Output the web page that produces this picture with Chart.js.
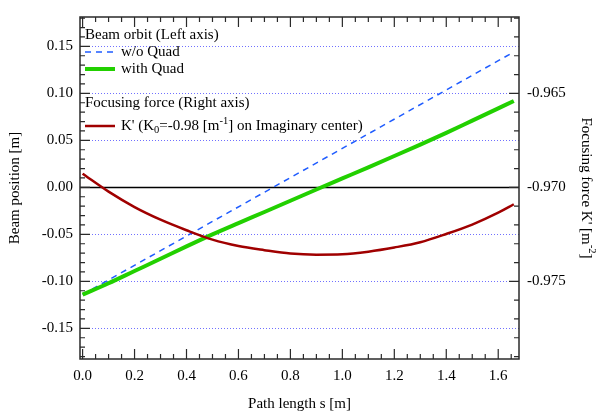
<!DOCTYPE html>
<html>
<head>
<meta charset="utf-8">
<script src="https://cdn.jsdelivr.net/npm/chart.js@4.4.0/dist/chart.umd.min.js"></script>
<style>
  html, body { margin: 0; padding: 0; background: #fff; }
</style>
</head>
<body>
<canvas id="orbitChart" width="597" height="414"></canvas>
<script>
/* path length samples [m] */
const pathS = [0, 0.1, 0.2, 0.3, 0.4, 0.5, 0.6, 0.7, 0.8, 0.9, 1.0, 1.1, 1.2, 1.3, 1.4, 1.5, 1.6, 1.66];

/* beam orbit with quad [m] */
const withQuad = [-0.1142, -0.1020, -0.0890, -0.0760, -0.0628, -0.0500, -0.0380, -0.0262, -0.0143,
  -0.0023, 0.0095, 0.0213, 0.0333, 0.0455, 0.0580, 0.0710, 0.0840, 0.0918];

/* beam orbit without quad: straight drift [m] */
const noQuadS = [0, 1.66];
const noQuad = [-0.1140, 0.1440];

/* focusing force K' [m^-2] */
const kPrime = [-0.96928, -0.97023, -0.97105, -0.97172, -0.97228, -0.97278, -0.97312, -0.97334, -0.97352,
  -0.97358, -0.97356, -0.97342, -0.97320, -0.97292, -0.97248, -0.97198, -0.97135, -0.97090];

/* tick labels */
const leftTicks = [-0.15, -0.10, -0.05, 0.00, 0.05, 0.10, 0.15];
const rightTicks = [-0.975, -0.970, -0.965];
const sTicks = [0.0, 0.2, 0.4, 0.6, 0.8, 1.0, 1.2, 1.4, 1.6];

const FONT = '"Liberation Serif", "Times New Roman", serif';
const FS = 15;

function richWidth(ctx, parts, size) {
  let w = 0;
  parts.forEach(p => {
    ctx.font = (p.sub || p.sup ? size * 0.7 : size) + 'px ' + FONT;
    w += ctx.measureText(p.t).width;
  });
  return w;
}

function drawRich(ctx, parts, x, y, size) {
  ctx.textBaseline = 'middle';
  ctx.textAlign = 'left';
  parts.forEach(p => {
    const s = p.sub || p.sup ? size * 0.7 : size;
    ctx.font = s + 'px ' + FONT;
    const dy = p.sub ? size * 0.3 : p.sup ? -size * 0.35 : 0;
    ctx.fillText(p.t, x, y + dy);
    x += ctx.measureText(p.t).width;
  });
}

function sampleLine(ctx, x, y, color, width, dash) {
  ctx.save();
  ctx.strokeStyle = color;
  ctx.lineWidth = width;
  ctx.setLineDash(dash || []);
  ctx.beginPath();
  ctx.moveTo(x, y);
  ctx.lineTo(x + 30, y);
  ctx.stroke();
  ctx.restore();
}

const framePlugin = {
  id: 'frame',
  beforeDatasetsDraw(chart) {
    const { ctx, chartArea: a, scales } = chart;
    ctx.save();
    leftTicks.forEach(v => {
      const y = Math.round(scales.y.getPixelForValue(v)) + 0.5;
      ctx.beginPath();
      if (v === 0) {
        ctx.strokeStyle = '#000';
        ctx.lineWidth = 1.3;
        ctx.setLineDash([]);
      } else {
        ctx.strokeStyle = '#7070ff';
        ctx.lineWidth = 1;
        ctx.setLineDash([1, 2]);
      }
      ctx.moveTo(a.left, y);
      ctx.lineTo(a.right, y);
      ctx.stroke();
    });
    ctx.restore();
  },
  afterDatasetsDraw(chart) {
    const { ctx, chartArea: a, scales } = chart;
    ctx.save();
    ctx.strokeStyle = '#2a2a2a';
    ctx.lineWidth = 1.5;
    ctx.setLineDash([]);
    ctx.strokeRect(a.left, a.top, a.right - a.left, a.bottom - a.top);

    // inward ticks
    ctx.lineWidth = 1.2;
    ctx.beginPath();
    for (let i = -18; i <= 18; i++) {
      const y = scales.y.getPixelForValue(i / 100);
      const len = i % 5 === 0 ? 10 : 5;
      ctx.moveTo(a.left, y);
      ctx.lineTo(a.left + len, y);
    }
    for (let i = -979; i <= -961; i++) {
      const y = scales.y1.getPixelForValue(i / 1000);
      const len = i % 5 === 0 ? 10 : 5;
      ctx.moveTo(a.right, y);
      ctx.lineTo(a.right - len, y);
    }
    for (let i = 0; i <= 33; i++) {
      const x = scales.x.getPixelForValue(i * 0.05);
      const len = i % 4 === 0 ? 10 : 5;
      ctx.moveTo(x, a.bottom);
      ctx.lineTo(x, a.bottom - len);
      ctx.moveTo(x, a.top);
      ctx.lineTo(x, a.top + len);
    }
    ctx.stroke();

    // legend
    ctx.fillStyle = '#000';
    const lx = a.left + 5;
    drawRich(ctx, [{ t: 'Beam orbit (Left axis)' }], lx, 35, FS);
    sampleLine(ctx, lx, 52, '#1f5cff', 1.5, [6, 5]);
    drawRich(ctx, [{ t: 'w/o Quad' }], lx + 36, 52, FS);
    sampleLine(ctx, lx, 69, '#22d000', 4);
    drawRich(ctx, [{ t: 'with Quad' }], lx + 36, 69, FS);
    drawRich(ctx, [{ t: 'Focusing force (Right axis)' }], lx, 103, FS);
    sampleLine(ctx, lx, 126, '#a00000', 2.5);
    drawRich(ctx, [
      { t: "K' (K" }, { t: '0', sub: true }, { t: '=-0.98 [m' }, { t: '-1', sup: true },
      { t: '] on Imaginary center)' }
    ], lx + 36, 126, FS);

    // axis titles
    const bt = [{ t: 'Path length s [m]' }];
    drawRich(ctx, bt, (a.left + a.right) / 2 - richWidth(ctx, bt, FS) / 2, 404, FS);

    const lt = [{ t: 'Beam position [m]' }];
    ctx.save();
    ctx.translate(15, (a.top + a.bottom) / 2);
    ctx.rotate(-Math.PI / 2);
    drawRich(ctx, lt, -richWidth(ctx, lt, FS) / 2, 0, FS);
    ctx.restore();

    const rt = [{ t: "Focusing force K' [m" }, { t: '-2', sup: true }, { t: ']' }];
    ctx.save();
    ctx.translate(586, (a.top + a.bottom) / 2);
    ctx.rotate(Math.PI / 2);
    drawRich(ctx, rt, -richWidth(ctx, rt, FS) / 2, 0, FS);
    ctx.restore();

    ctx.restore();
  }
};

const tickFont = { family: FONT, size: FS };
const yMin = -0.1826, yMax = 0.1812;

new Chart(document.getElementById('orbitChart'), {
  type: 'line',
  data: {
    datasets: [
      {
        label: "K'",
        data: pathS.map((s, i) => ({ x: s, y: kPrime[i] })),
        yAxisID: 'y1',
        borderColor: '#a00000',
        borderWidth: 2.5,
        pointRadius: 0,
        cubicInterpolationMode: 'monotone',
        order: 1
      },
      {
        label: 'with Quad',
        data: pathS.map((s, i) => ({ x: s, y: withQuad[i] })),
        yAxisID: 'y',
        borderColor: '#22d000',
        borderWidth: 4,
        pointRadius: 0,
        cubicInterpolationMode: 'monotone',
        order: 2
      },
      {
        label: 'w/o Quad',
        data: noQuadS.map((s, i) => ({ x: s, y: noQuad[i] })),
        yAxisID: 'y',
        borderColor: '#1f5cff',
        borderWidth: 1.5,
        borderDash: [6, 5],
        pointRadius: 0,
        order: 3
      }
    ]
  },
  options: {
    responsive: false,
    animation: false,
    events: [],
    layout: { padding: { top: 14 } },
    plugins: { legend: { display: false }, tooltip: { enabled: false } },
    scales: {
      x: {
        type: 'linear',
        position: 'bottom',
        min: -0.01,
        max: 1.68,
        grid: { display: false, drawTicks: false },
        border: { display: false },
        afterBuildTicks: s => { s.ticks = sTicks.map(v => ({ value: v })); },
        afterFit: s => { s.height = 55; },
        ticks: {
          autoSkip: false, maxRotation: 0, padding: 8, color: '#000', font: tickFont,
          callback: v => v.toFixed(1)
        }
      },
      y: {
        type: 'linear',
        position: 'left',
        min: yMin,
        max: yMax,
        grid: { display: false, drawTicks: false },
        border: { display: false },
        afterBuildTicks: s => { s.ticks = leftTicks.map(v => ({ value: v })); },
        afterFit: s => { s.width = 80; },
        ticks: { padding: 7, color: '#000', font: tickFont, callback: v => v.toFixed(2) }
      },
      y1: {
        type: 'linear',
        position: 'right',
        min: -0.970 + yMin * 0.05,
        max: -0.970 + yMax * 0.05,
        grid: { display: false, drawTicks: false },
        border: { display: false },
        afterBuildTicks: s => { s.ticks = rightTicks.map(v => ({ value: v })); },
        afterFit: s => { s.width = 78; },
        ticks: { padding: 8, color: '#000', font: tickFont, callback: v => v.toFixed(3) }
      }
    }
  },
  plugins: [framePlugin]
});
</script>
</body>
</html>
